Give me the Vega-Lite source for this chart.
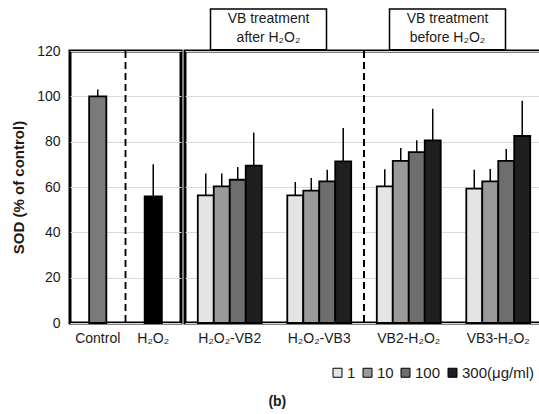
{
  "$schema": "https://vega.github.io/schema/vega-lite/v6.json",
  "background": "white",
  "padding": {"left": 10, "top": 6, "right": 1, "bottom": 5},
  "config": {
    "font": "Liberation Sans",
    "view": {"stroke": "black", "strokeWidth": 3},
    "axis": {"labelFont": "Liberation Sans", "titleFont": "Liberation Sans", "labelColor": "#1a1a1a", "titleColor": "#1a1a1a", "gridColor": "#d9d9d9", "gridWidth": 1.2, "domain": false, "ticks": false}
  },
  "datasets": {
    "single": [
      {"group": "Control", "sod": 100, "hi": 103},
      {"group": "H₂O₂", "sod": 55.8, "hi": 70}
    ],
    "treated": [
      {"group": "H₂O₂-VB2", "dose": "1", "sod": 56.3, "hi": 66},
      {"group": "H₂O₂-VB2", "dose": "10", "sod": 60.3, "hi": 66},
      {"group": "H₂O₂-VB2", "dose": "100", "sod": 63.2, "hi": 68.8},
      {"group": "H₂O₂-VB2", "dose": "300(μg/ml)", "sod": 69.4, "hi": 84},
      {"group": "H₂O₂-VB3", "dose": "1", "sod": 56.3, "hi": 62.2},
      {"group": "H₂O₂-VB3", "dose": "10", "sod": 58.4, "hi": 64},
      {"group": "H₂O₂-VB3", "dose": "100", "sod": 62.5, "hi": 67.6},
      {"group": "H₂O₂-VB3", "dose": "300(μg/ml)", "sod": 71.3, "hi": 86},
      {"group": "VB2-H₂O₂", "dose": "1", "sod": 60.3, "hi": 67.8},
      {"group": "VB2-H₂O₂", "dose": "10", "sod": 71.5, "hi": 77.2},
      {"group": "VB2-H₂O₂", "dose": "100", "sod": 75.4, "hi": 80.6},
      {"group": "VB2-H₂O₂", "dose": "300(μg/ml)", "sod": 80.6, "hi": 94.5},
      {"group": "VB3-H₂O₂", "dose": "1", "sod": 59.3, "hi": 67.6},
      {"group": "VB3-H₂O₂", "dose": "10", "sod": 62.5, "hi": 68},
      {"group": "VB3-H₂O₂", "dose": "100", "sod": 71.5, "hi": 76.8},
      {"group": "VB3-H₂O₂", "dose": "300(μg/ml)", "sod": 82.5, "hi": 98}
    ],
    "headers": [
      {"h": "after", "label": "VB treatment\nafter H₂O₂"},
      {"h": "before", "label": "VB treatment\nbefore H₂O₂"}
    ]
  },
  "spacing": 0,
  "resolve": {"scale": {"x": "independent"}},
  "title": {"text": "(b)", "orient": "bottom", "anchor": "middle", "fontSize": 14, "fontWeight": "bold", "color": "#1a1a1a", "offset": 14},
  "hconcat": [
    {
      "width": 111,
      "height": 272,
      "data": {"name": "single"},
      "layer": [
        {
          "mark": {"type": "bar", "stroke": "black", "strokeWidth": 1.8, "width": {"band": 0.31}},
          "encoding": {
            "x": {"field": "group", "type": "nominal", "sort": null, "scale": {"paddingInner": 0, "paddingOuter": 0},
                  "axis": {"title": null, "labelAngle": 0, "labelFontSize": 14, "labelPadding": 8}},
            "y": {"field": "sod", "type": "quantitative", "scale": {"domain": [0, 120]},
                  "axis": {"title": "SOD (% of control)", "titleFontSize": 15, "titleFontWeight": "bold", "titlePadding": 10, "labelFontSize": 14, "labelPadding": 10, "values": [0, 20, 40, 60, 80, 100, 120]}},
            "fill": {"condition": {"test": "datum.group === 'Control'", "value": "#7a7a7a"}, "value": "black"}
          }
        },
        {
          "mark": {"type": "rule", "color": "black", "strokeWidth": 1.5},
          "encoding": {
            "x": {"field": "group", "type": "nominal", "sort": null},
            "y": {"field": "sod", "type": "quantitative"},
            "y2": {"field": "hi"}
          }
        },
        {
          "mark": {"type": "rule", "color": "black", "strokeWidth": 1.5, "strokeDash": [7, 4]},
          "encoding": {"x": {"datum": "H₂O₂", "type": "nominal", "bandPosition": 0}}
        }
      ]
    },
    {
      "width": 358,
      "height": 272,
      "resolve": {"scale": {"x": "independent"}},
      "layer": [
        {
          "data": {"name": "treated"},
          "layer": [
            {
              "mark": {"type": "bar", "stroke": "black", "strokeWidth": 1.8},
              "encoding": {
                "x": {"field": "group", "type": "nominal", "sort": null, "scale": {"paddingInner": 0, "paddingOuter": 0},
                      "axis": {"title": null, "labelAngle": 0, "labelFontSize": 14, "labelPadding": 8}},
                "xOffset": {"field": "dose", "type": "nominal", "sort": ["1", "10", "100", "300(μg/ml)"], "scale": {"paddingInner": 0, "paddingOuter": 0.8}},
                "y": {"field": "sod", "type": "quantitative", "scale": {"domain": [0, 120]},
                      "axis": {"title": null, "labels": false, "domain": false, "ticks": false, "labelPadding": 0, "minExtent": 0, "maxExtent": 0, "grid": true, "values": [0, 20, 40, 60, 80, 100, 120]}},
                "fill": {"field": "dose", "type": "nominal",
                         "scale": {"domain": ["1", "10", "100", "300(μg/ml)"], "range": ["#e4e4e4", "#9a9a9a", "#6e6e6e", "#1f1f1f"]},
                         "legend": {"title": null, "orient": "none", "direction": "horizontal", "legendX": 260, "legendY": 314,
                                    "symbolType": "square", "symbolSize": 81, "symbolStrokeColor": "black", "symbolStrokeWidth": 1,
                                    "labelFontSize": 15, "labelColor": "#1a1a1a", "labelOffset": 2, "columnPadding": 4}}
              }
            },
            {
              "mark": {"type": "rule", "color": "black", "strokeWidth": 1.5},
              "encoding": {
                "x": {"field": "group", "type": "nominal", "sort": null},
                "xOffset": {"field": "dose", "type": "nominal", "sort": ["1", "10", "100", "300(μg/ml)"]},
                "y": {"field": "sod", "type": "quantitative"},
                "y2": {"field": "hi"}
              }
            },
            {
              "mark": {"type": "rule", "color": "black", "strokeWidth": 1.5, "strokeDash": [7, 4]},
              "encoding": {"x": {"datum": "VB2-H₂O₂", "type": "nominal", "bandPosition": 0}}
            }
          ]
        },
        {
          "data": {"name": "headers"},
          "layer": [
            {
              "mark": {"type": "bar", "fill": "white", "stroke": "black", "strokeWidth": 1.5, "width": 116, "xOffset": -6},
              "encoding": {
                "x": {"field": "h", "type": "nominal", "sort": null, "scale": {"paddingInner": 0, "paddingOuter": 0}, "axis": null},
                "y": {"datum": 120.6, "type": "quantitative"},
                "y2": {"datum": 138.5}
              }
            },
            {
              "mark": {"type": "text", "fontSize": 14, "lineHeight": 19, "lineBreak": "\n", "align": "center", "baseline": "middle", "color": "#1a1a1a", "xOffset": -6},
              "encoding": {
                "x": {"field": "h", "type": "nominal", "sort": null, "axis": null},
                "y": {"datum": 134.0, "type": "quantitative"},
                "text": {"field": "label", "type": "nominal"}
              }
            }
          ]
        }
      ]
    }
  ]
}
